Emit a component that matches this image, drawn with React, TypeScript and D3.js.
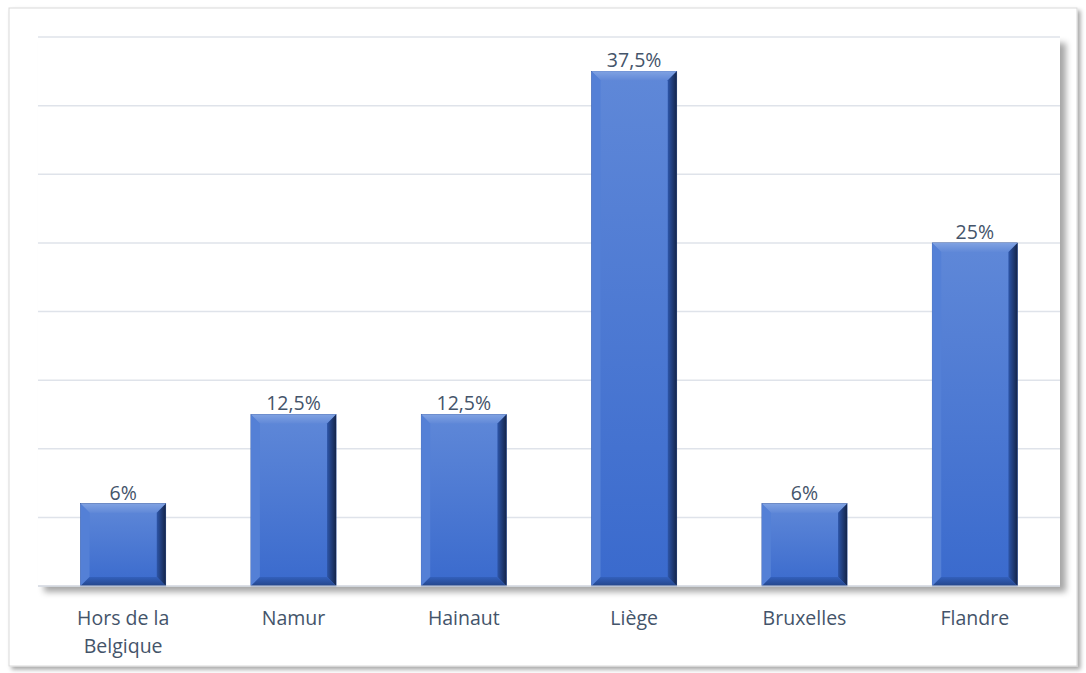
import React from "react";
import * as d3 from "d3";

const categories: string[][] = [["Hors de la", "Belgique"], ["Namur"], ["Hainaut"], ["Liège"], ["Bruxelles"], ["Flandre"]];
const values: number[] = [6, 12.5, 12.5, 37.5, 6, 25];
const valueLabels: string[] = ["6%", "12,5%", "12,5%", "37,5%", "6%", "25%"];
const yTicks: number[] = [0, 5, 10, 15, 20, 25, 30, 35, 40];

const W = 1086;
const H = 673;
const plot = { left: 38, top: 37, right: 1060, bottom: 586 };

export default function App() {
  const x = d3.scaleBand<number>().domain(d3.range(values.length)).range([plot.left, plot.right]).paddingInner(0.5).paddingOuter(0.25);
  const y = d3.scaleLinear().domain([0, 40]).range([plot.bottom, plot.top]);
  const bw = x.bandwidth();
  const bev = 9;
  const textColor = "#44546A";
  const font = "'Open Sans', 'Noto Sans', sans-serif";
  const fs = 19.5;

  return (
    <svg width={W} height={H} style={{ position: "absolute", left: 0, top: 0 }}>
      <defs>
        <filter id="frameShadow" x="-5%" y="-5%" width="110%" height="110%">
          <feDropShadow dx="3" dy="3" stdDeviation="2" floodColor="#000" floodOpacity="0.35" />
        </filter>
        <filter id="plotShadow" x="-5%" y="-5%" width="110%" height="110%">
          <feDropShadow dx="6" dy="6" stdDeviation="3" floodColor="#000" floodOpacity="0.35" />
        </filter>
        <linearGradient id="face" x1="0" y1="0" x2="0" y2="1">
          <stop offset="0" stopColor="#5F88D8" />
          <stop offset="1" stopColor="#3A6ACD" />
        </linearGradient>
        <linearGradient id="rightBev" x1="0" y1="0" x2="1" y2="0">
          <stop offset="0" stopColor="#2D55A8" />
          <stop offset="1" stopColor="#14254A" />
        </linearGradient>
        <linearGradient id="bottomBev" x1="0" y1="0" x2="0" y2="1">
          <stop offset="0" stopColor="#3360BC" />
          <stop offset="1" stopColor="#23458A" />
        </linearGradient>
        <linearGradient id="topBev" x1="0" y1="0" x2="0" y2="1">
          <stop offset="0" stopColor="#80A2E2" />
          <stop offset="1" stopColor="#6189D8" />
        </linearGradient>
      </defs>

      <rect x={9} y={8} width={1068} height={658} fill="#fff" stroke="#d9d9d9" strokeWidth={1} filter="url(#frameShadow)" />
      <rect x={plot.left} y={plot.top} width={plot.right - plot.left} height={plot.bottom - plot.top} fill="#fff" filter="url(#plotShadow)" />

      {yTicks.map((t) => (
        <line key={t} x1={plot.left} x2={plot.right} y1={y(t)} y2={y(t)} stroke="#dfe3ea" strokeWidth={1.5} />
      ))}

      {values.map((v, i) => {
        const x0 = x(i)!;
        const x1 = x0 + bw;
        const y0 = y(v);
        const y1 = y(0);
        return (
          <g key={i}>
            <rect x={x0} y={y0} width={bw} height={y1 - y0} fill="url(#face)" stroke="#2a4f9a" strokeWidth={0.6} />
            <polygon points={`${x0},${y0} ${x1},${y0} ${x1 - bev},${y0 + bev} ${x0 + bev},${y0 + bev}`} fill="url(#topBev)" />
            <polygon points={`${x0},${y0} ${x0 + bev},${y0 + bev} ${x0 + bev},${y1 - bev} ${x0},${y1}`} fill="#5480D6" />
            <polygon points={`${x1},${y0} ${x1},${y1} ${x1 - bev},${y1 - bev} ${x1 - bev},${y0 + bev}`} fill="url(#rightBev)" />
            <polygon points={`${x0},${y1} ${x1},${y1} ${x1 - bev},${y1 - bev} ${x0 + bev},${y1 - bev}`} fill="url(#bottomBev)" />
            <text x={x0 + bw / 2} y={y0 - 4} textAnchor="middle" fontFamily={font} fontSize={fs} fill={textColor}>
              {valueLabels[i]}
            </text>
          </g>
        );
      })}

      <line x1={plot.left} x2={plot.right} y1={plot.bottom} y2={plot.bottom} stroke="#d0d5dd" strokeWidth={1} />

      {categories.map((lines, i) => (
        <text key={i} x={x(i)! + bw / 2} textAnchor="middle" fontFamily={font} fontSize={fs} fill={textColor}>
          {lines.map((l, j) => (
            <tspan key={j} x={x(i)! + bw / 2} y={625 + j * 28}>
              {l}
            </tspan>
          ))}
        </text>
      ))}
    </svg>
  );
}
